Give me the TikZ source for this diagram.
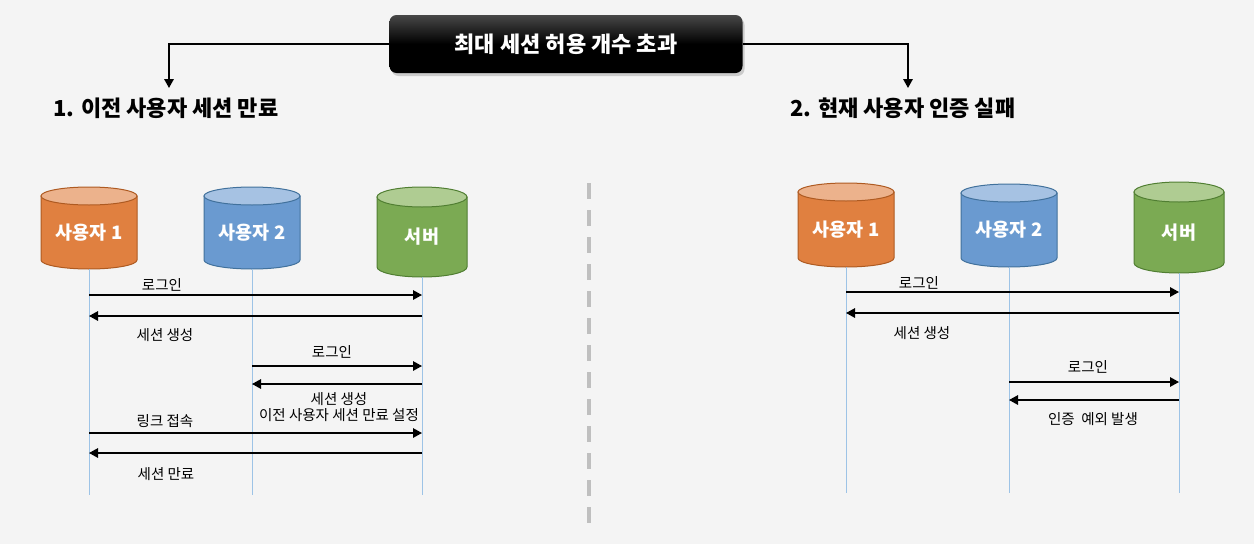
\documentclass[tikz,border=0pt]{standalone}
\usepackage{fontspec}
\setmainfont{Noto Sans CJK KR}
\usepackage{xcolor}
\usetikzlibrary{arrows.meta, shadows, positioning}

\definecolor{bgGray}{HTML}{F4F4F4}
\definecolor{orBody}{HTML}{E08040}
\definecolor{orTop}{HTML}{ECB28C}
\definecolor{orLine}{HTML}{AE5A21}
\definecolor{blBody}{HTML}{6A9AD0}
\definecolor{blTop}{HTML}{A6C2E3}
\definecolor{blLine}{HTML}{41719C}
\definecolor{grBody}{HTML}{7BAA53}
\definecolor{grTop}{HTML}{AFCC92}
\definecolor{grLine}{HTML}{507E32}
\definecolor{lifeBlue}{HTML}{9DC3E6}

\begin{document}
\begin{tikzpicture}[
        x=1pt, y=-1pt,
        >={Triangle[length=9pt, width=9.5pt]},
        msg/.style={->, line width=1.4pt},
        link/.style={->, line width=1.6pt},
        life/.style={draw=lifeBlue, line width=1pt},
        lbl/.style={inner sep=0pt, font=\fontsize{14.5}{16.5}\selectfont},
        cyltext/.style={text=white, font=\fontsize{18.5}{21}\selectfont\bfseries},
        heading/.style={anchor=west, inner sep=0pt, font=\fontsize{22}{26}\selectfont\bfseries},
        titlebox/.style={minimum width=353pt, minimum height=58pt, rounded corners=7pt,
            top color=black!72, bottom color=black, middle color=black,
            drop shadow={opacity=0.35, shadow xshift=2pt, shadow yshift=-3pt},
            text=white, font=\fontsize{22}{26}\selectfont\bfseries},
        sep/.style={draw=black!25, line width=4pt, dash pattern=on 16pt off 11pt}
    ]
        % --- Fond ---
        \useasboundingbox[fill=bgGray] (0,0) rectangle (1254,544);

        % --- Titre et renvois ---
        \node[titlebox] (title) at (566,44) {최대 세션 허용 개수 초과};
        \coordinate (a1) at (169,88);
        \coordinate (a2) at (908,88);
        \draw[link] (title.west) -| (a1);
        \draw[link] (title.east) -| (a2);

        \node[heading] (h1) at (53,108) {1. 이전 사용자 세션 만료};
        \node[heading] (h2) at (790,108) {2. 현재 사용자 인증 실패};

        % --- Séparateur ---
        \draw[sep] (589,183) -- (589,525);

        % --- Cylindres et lignes de vie ---
        \foreach \nm/\cx/\hw/\ty/\by/\ry/\col/\txt/\ly in {
            lu1/89/48/187/269/9/or/사용자 1/495,
            lu2/252/48/187/269/9/bl/사용자 2/495,
            lsv/422/45/187/277/10/gr/서버/495,
            ru1/846/48/183/267/9/or/사용자 1/493,
            ru2/1009/48/184/267/9/bl/사용자 2/493,
            rsv/1179/45/182/273/10/gr/서버/493}
        {
            \filldraw[fill=\col Body, draw=\col Line, line width=1pt]
                (\cx-\hw, \ty+\ry) -- (\cx-\hw, \by-\ry)
                arc[start angle=180, end angle=360, x radius=\hw*1pt, y radius=\ry*1pt]
                -- (\cx+\hw, \ty+\ry) -- cycle;
            \filldraw[fill=\col Top, draw=\col Line, line width=1pt]
                (\cx, \ty+\ry) ellipse[x radius=\hw*1pt, y radius=\ry*1pt];
            \node[cyltext] (\nm) at (\cx, {(\ty+\by+\ry)/2}) {\txt};
            \draw[life] (\nm |- 0,\by) -- (\nm |- 0,\ly);
        }

        % --- Cas 1 : messages ---
        \draw[msg] (lu1 |- 0,295) -- (lsv |- 0,295);
        \draw[msg] (lsv |- 0,316) -- (lu1 |- 0,316);
        \draw[msg] (lu2 |- 0,366) -- (lsv |- 0,366);
        \draw[msg] (lsv |- 0,384) -- (lu2 |- 0,384);
        \draw[msg] (lu1 |- 0,433) -- (lsv |- 0,433);
        \draw[msg] (lsv |- 0,453) -- (lu1 |- 0,453);

        \node[lbl] (m1) at (162,285) {로그인};
        \node[lbl] (m2) at (165,335) {세션 생성};
        \node[lbl] (m3) at (332,352) {로그인};
        \node[lbl, align=center] (m4) at (339,407) {세션 생성\\이전 사용자 세션 만료 설정};
        \node[lbl] (m5) at (165,421) {링크 접속};
        \node[lbl] (m6) at (166,474) {세션 만료};

        % --- Cas 2 : messages ---
        \draw[msg] (ru1 |- 0,292) -- (rsv |- 0,292);
        \draw[msg] (rsv |- 0,313) -- (ru1 |- 0,313);
        \draw[msg] (ru2 |- 0,382) -- (rsv |- 0,382);
        \draw[msg] (rsv |- 0,400) -- (ru2 |- 0,400);

        \node[lbl] (n1) at (919,283) {로그인};
        \node[lbl] (n2) at (922,333) {세션 생성};
        \node[lbl] (n3) at (1088,367) {로그인};
        \node[lbl] (n4) at (1093,419) {인증~~예외 발생};

    \end{tikzpicture}
\end{document}
